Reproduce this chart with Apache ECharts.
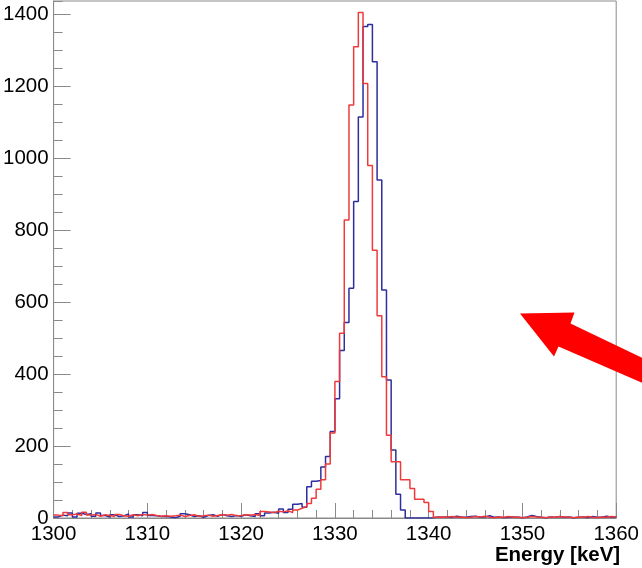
<!DOCTYPE html>
<html>
<head>
<meta charset="utf-8">
<title>Energy spectrum</title>
<script src="https://cdn.jsdelivr.net/npm/echarts@6/dist/echarts.min.js"></script>
<style>
  html, body { margin: 0; padding: 0; background: #ffffff; }
  #chart { width: 642px; height: 568px; }
</style>
</head>
<body>
<div id="chart"></div>
<script>
// Histogram binning: 120 bins of 0.5 keV starting at 1300 keV
const binLow = 1300;
const binWidth = 0.5;

// Counts per bin (blue spectrum)
const blueCounts = [
  3, 8, 6, 14, 3, 13, 10, 12, 5, 14,
  7, 3, 9, 4, 6, 11, 3, 9, 6, 15,
  7, 6, 4, 5, 3, 1, 5, 12, 9, 4,
  6, 2, 7, 9, 5, 10, 6, 4, 7, 5,
  9, 6, 4, 12, 6, 14, 16, 13, 25, 15,
  24, 38, 40, 30, 87, 102, 104, 142, 171, 240,
  331, 465, 543, 638, 879, 1114, 1365, 1371, 1267, 939,
  633, 383, 189, 66, 22, 0, 0, 0, 0, 0,
  1, 3, 2, 3, 2, 5, 3, 2, 4, 5,
  2, 3, 6, 2, 3, 1, 2, 3, 2, 1,
  3, 7, 4, 2, 1, 3, 2, 4, 2, 3,
  1, 2, 3, 1, 4, 2, 3, 5, 2, 3
];

// Counts per bin (red spectrum)
const redCounts = [
  8, 6, 15, 9, 11, 7, 16, 8, 10, 5,
  9, 7, 4, 10, 6, 5, 9, 6, 10, 8,
  10, 7, 5, 6, 5, 6, 8, 4, 7, 9,
  5, 6, 8, 5, 7, 9, 8, 10, 6, 7,
  9, 8, 10, 7, 18, 17, 15, 19, 17, 20,
  15, 22, 27, 32, 40, 55, 80, 106, 150, 236,
  379, 513, 828, 1147, 1309, 1404, 1207, 979, 744, 562,
  392, 230, 156, 156, 106, 106, 82, 52, 52, 43,
  18, 2, 3, 2, 4, 2, 3, 1, 2, 4,
  3, 5, 2, 1, 3, 2, 4, 2, 3, 1,
  2, 4, 3, 2, 1, 3, 2, 4, 3, 2,
  1, 3, 2, 4, 2, 1, 3, 2, 4, 3
];

// Axis ranges and tick spacing
const xRange = [1300, 1360];
const xMajor = 10;
const yRange = [0, 1436];
const yMajor = 200;
const yMinor = 50;

// Turn bin contents into step-line points at the bin edges
function histPoints(counts) {
  const pts = counts.map((c, i) => [binLow + i * binWidth, c]);
  pts.push([binLow + counts.length * binWidth, counts[counts.length - 1]]);
  return pts;
}

// Plain integers, no thousands separator
const plain = (v) => String(Math.round(v));

const frameColor = '#8a8a8a';
const font = 'Liberation Sans, Arial, Helvetica, sans-serif';

const chart = echarts.init(document.getElementById('chart'), null, { renderer: 'canvas' });

chart.setOption({
  animation: false,
  backgroundColor: '#ffffff',
  grid: {
    left: 52, right: 21, top: 1, bottom: 50,
    show: true, borderColor: frameColor, borderWidth: 1,
    backgroundColor: 'transparent'
  },
  xAxis: {
    type: 'value',
    min: xRange[0], max: xRange[1], interval: xMajor,
    name: 'Energy [keV]',
    nameLocation: 'end',
    nameGap: 4,
    nameTextStyle: {
      fontFamily: font, fontSize: 20.5, fontWeight: 'bold', color: '#000',
      align: 'right', verticalAlign: 'top', padding: [27, 0, 0, 0]
    },
    axisLine: { show: true, lineStyle: { color: frameColor, width: 1 } },
    axisTick: { show: true, inside: true, length: 15, lineStyle: { color: frameColor, width: 1 } },
    minorTick: { show: true, splitNumber: 5, length: 8, lineStyle: { color: frameColor, width: 1 } },
    axisLabel: { fontFamily: font, fontSize: 20.5, color: '#000', margin: 6, formatter: plain },
    splitLine: { show: false }
  },
  yAxis: [
    {
      type: 'value',
      min: yRange[0], max: yRange[1], interval: yMajor,
      axisLine: { show: true, lineStyle: { color: frameColor, width: 1 } },
      axisTick: { show: true, inside: true, length: 17, lineStyle: { color: frameColor, width: 1 } },
      axisLabel: { fontFamily: font, fontSize: 20.5, color: '#000', margin: 5, showMaxLabel: false, formatter: plain },
      splitLine: { show: false }
    },
    {
      type: 'value',
      position: 'left',
      min: yRange[0], max: yRange[1], interval: yMinor,
      axisLine: { show: false },
      axisTick: { show: true, inside: true, length: 9, lineStyle: { color: frameColor, width: 1 } },
      axisLabel: { show: false },
      splitLine: { show: false }
    }
  ],
  series: [
    {
      name: 'blue',
      type: 'line',
      step: 'end',
      yAxisIndex: 0,
      data: histPoints(blueCounts),
      showSymbol: false,
      lineStyle: { color: '#2e2e9e', width: 1.5 },
      z: 2
    },
    {
      name: 'red',
      type: 'line',
      step: 'end',
      yAxisIndex: 0,
      data: histPoints(redCounts),
      showSymbol: false,
      lineStyle: { color: '#f03a3a', width: 1.5 },
      z: 3
    }
  ],
  graphic: [
    {
      type: 'polygon',
      z: 100,
      shape: {
        points: [
          [520, 313.5], [574.5, 312.5], [570.5, 323.5],
          [670, 371], [670, 395], [558.5, 346.5], [554, 356.5]
        ]
      },
      style: { fill: '#ff0000' }
    }
  ]
});
</script>
</body>
</html>
